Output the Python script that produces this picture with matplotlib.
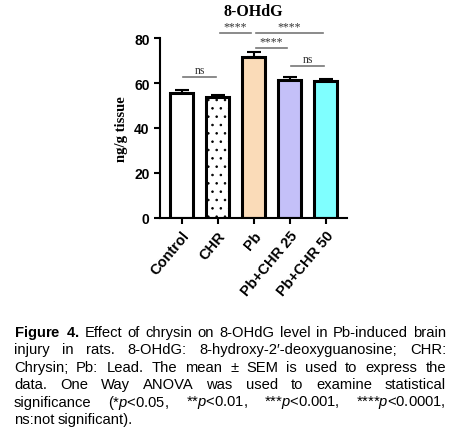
import matplotlib
matplotlib.use("Agg")
import matplotlib.pyplot as plt

plt.rcParams['mathtext.fontset'] = 'custom'
plt.rcParams['mathtext.rm'] = 'Liberation Sans'
plt.rcParams['mathtext.it'] = 'Liberation Sans:italic'
plt.rcParams['mathtext.bf'] = 'Liberation Sans:bold'

groups = ["Control", "CHR", "Pb", "Pb+CHR 25", "Pb+CHR 50"]
means = [55.5, 53.8, 71.8, 61.2, 60.8]
sems = [1.5, 1.0, 2.0, 1.3, 0.8]
colors = ["white", "white", "#FADBB8", "#C4C0F8", "#7FFFFF"]
hatches = ["", "..", "", "", ""]
brackets = [(0, 1, 62.7, "ns"), (1, 2, 82.2, "****"), (2, 3, 75.5, "****"),
            (2, 4, 82.2, "****"), (3, 4, 67.5, "ns")]

fig = plt.figure(figsize=(4.61, 4.35), dpi=100)
ax = fig.add_axes([0.347, 0.497, 0.406, 0.413])
x = range(len(groups))
plt.rcParams['hatch.linewidth'] = 0.6
for i in x:
    ax.bar(i, means[i], width=0.62, color=colors[i], edgecolor="black", linewidth=2.2,
           hatch=hatches[i], zorder=2)
    ax.errorbar(i, means[i], yerr=[[0], [sems[i]]], color="black", capsize=5,
                elinewidth=1.5, capthick=1.5, zorder=3)
for a, b, y, t in brackets:
    off = 0.08 if t == "****" else 0.05
    ax.plot([a + off, b - off], [y, y], color="#777777", lw=1.2, clip_on=False)
    ax.text((a + b) / 2, y + 0.6, t, ha="center", va="bottom", fontsize=8.5,
            family="Liberation Serif", color="#333333", clip_on=False)
ax.set_ylim(0, 80)
ax.set_xlim(-0.6, 4.6)
ax.set_yticks([0, 20, 40, 60, 80])
ax.set_xticks(list(x))
ax.set_xticklabels(groups, rotation=50, ha="right", rotation_mode="anchor",
                   fontsize=10.5, fontweight="bold", family="Liberation Sans")
for lab in ax.get_yticklabels():
    lab.set_fontweight("bold"); lab.set_family("Liberation Sans"); lab.set_fontsize(10)
ax.spines["top"].set_visible(False)
ax.spines["right"].set_visible(False)
ax.spines["left"].set_linewidth(1.5)
ax.spines["bottom"].set_linewidth(1.5)
ax.tick_params(width=1.5, length=4)
ax.set_ylabel("ng/g tissue", fontsize=10.5, fontweight="bold", family="Liberation Serif")
ax.set_title("8-OHdG", fontsize=11.5, fontweight="bold", family="Liberation Serif", pad=17)

cap = [[r"$\bf{Figure}$", r"$\bf{4.}$", "Effect", "of", "chrysin", "on", "8-OHdG", "level", "in", "Pb-induced", "brain"],
       "injury in rats. 8-OHdG: 8-hydroxy-2\u2032-deoxyguanosine; CHR:".split(),
       "Chrysin; Pb: Lead. The mean \u00b1 SEM is used to express the".split(),
       "data. One Way ANOVA was used to examine statistical".split(),
       ["significance", r"(*$\it{p}$<0.05,", r"**$\it{p}$<0.01,", r"***$\it{p}$<0.001,", r"****$\it{p}$<0.0001,"],
       ["ns:not", "significant)."]]
left, right = 14, 446
renderer = fig.canvas.get_renderer()
for k, words in enumerate(cap):
    yy = 1 - (333 + k * 17.5) / 435
    texts = [fig.text(0, yy, w, fontsize=10.6, family="Liberation Sans", va="center", ha="left")
             for w in words]
    widths = [t.get_window_extent(renderer).width for t in texts]
    last = k == len(cap) - 1
    gap = 3.0 if last else (right - left - sum(widths)) / (len(words) - 1)
    xp = left
    for t, w in zip(texts, widths):
        t.set_x(xp / 461)
        xp += w + gap
fig.savefig("out.png", dpi=100)
